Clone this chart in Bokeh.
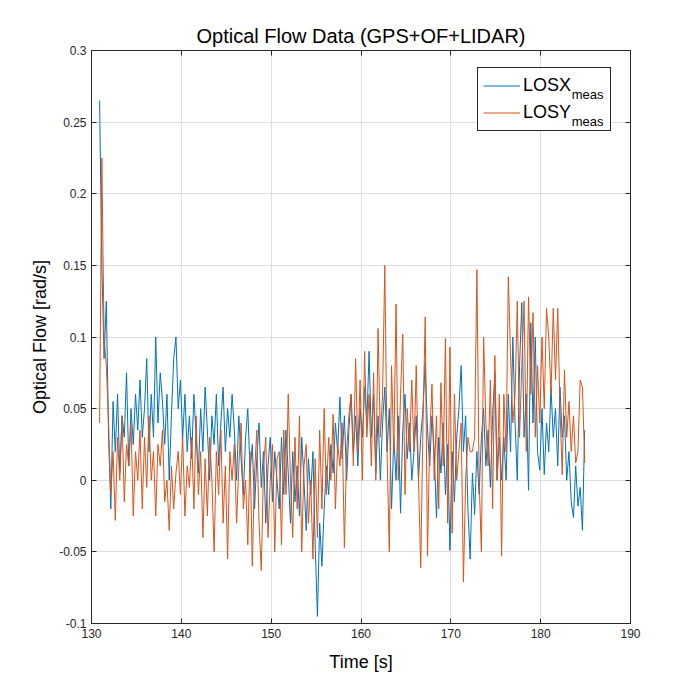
from bokeh.plotting import figure
from bokeh.models import (Legend, LegendItem, LinearAxis, FixedTicker, Label,
                          Range1d, ColumnDataSource, CustomLabelingPolicy, BoxAnnotation)
from bokeh.embed import file_html
from bokeh.resources import INLINE
import numpy as np

# ---------------- data ----------------
T0 = 130.9      # first sample time [s]
DT = 0.25       # sample spacing [s]

LOSX_MEAS = [
    0.265, 0.15, 0.085, 0.125, 0.03, -0.02, 0.055, 0.02, 0.06, 0.005, 0.045, 0.03, 0.075, 0.01, 0.05, 0.025, 0.06, 0.035, 0.07, 0.03,
    0.05, 0.085, 0.02, 0.06, 0.03, 0.1, 0.04, 0.075, 0.055, 0.025, 0.06, 0.0, 0.045, 0.085, 0.1, 0.05, 0.07, 0.03, 0.06, 0.02,
    0.045, 0.015, 0.06, 0.03, 0.005, 0.05, 0.02, 0.065, 0.035, 0.0, 0.045, 0.025, 0.06, 0.01, 0.04, 0.065, 0.02, 0.05, 0.03, 0.06,
    0.035, 0.0, 0.045, 0.015, -0.01, 0.03, 0.05, 0.005, 0.025, -0.02, 0.015, 0.04, -0.005, 0.02, -0.03, 0.01, 0.03, -0.015, 0.02, 0.0,
    -0.02, 0.03, -0.01, 0.035, 0.005, -0.03, 0.02, -0.015, 0.01, -0.025, 0.03, 0.0, -0.035, 0.015, -0.01, 0.02, -0.045, -0.095, -0.03, -0.06,
    -0.02, 0.01, -0.01, 0.025, 0.005, 0.04, 0.02, 0.058, 0.015, 0.045, 0.0, 0.035, 0.06, 0.02, 0.045, 0.01, 0.05, 0.03, 0.065, 0.04,
    0.09, 0.03, 0.06, 0.005, 0.045, 0.0, 0.04, 0.065, 0.02, 0.05, -0.02, 0.03, 0.0, 0.045, -0.023, 0.035, 0.06, 0.015, 0.04, 0.0,
    0.02, 0.045, 0.0, 0.03, 0.05, 0.082, 0.035, 0.01, 0.045, 0.02, -0.026, 0.03, 0.005, 0.04, -0.01, 0.025, -0.049, 0.02, -0.015, 0.03,
    0.05, 0.08, 0.02, 0.045, -0.02, -0.055, 0.005, -0.024, 0.02, -0.01, 0.03, 0.05, 0.01, 0.035, -0.005, 0.045, 0.075, 0.0, 0.03, 0.0,
    0.03, 0.0, 0.06, 0.02, 0.1, 0.04, 0.0, 0.08, 0.124, 0.03, 0.06, -0.007, 0.11, 0.04, 0.1, 0.02, 0.007, 0.05, 0.004, 0.04,
    0.02, 0.065, 0.03, 0.05, 0.01, 0.065, 0.03, 0.045, 0.0, 0.02, -0.015, -0.026, 0.01, -0.018, -0.005, -0.035, 0.035,
]

LOSY_MEAS = [
    0.04, 0.225, 0.1, 0.08, 0.04, -0.01, 0.02, -0.028, 0.03, 0.0, 0.045, -0.015, 0.025, 0.01, 0.04, -0.025, 0.02, 0.0, 0.035, -0.02,
    0.03, -0.005, 0.045, 0.0, 0.02, -0.025, 0.025, 0.01, 0.035, -0.015, 0.0, -0.035, 0.01, -0.02, 0.005, 0.02, -0.01, 0.03, -0.025, 0.01,
    -0.005, 0.03, -0.02, 0.045, -0.01, 0.02, -0.04, 0.015, -0.025, 0.03, 0.0, -0.05, 0.02, -0.01, 0.035, -0.03, 0.01, -0.055, 0.02, 0.0,
    0.025, -0.03, 0.01, 0.04, -0.02, 0.0, -0.045, 0.02, -0.06, 0.005, 0.035, -0.03, -0.063, 0.01, 0.03, -0.04, 0.0, 0.025, -0.05, 0.015,
    0.02, -0.045, 0.035, -0.01, 0.06, 0.0, -0.04, 0.03, -0.02, 0.045, -0.05, 0.01, 0.025, -0.03, 0.0, -0.055, 0.015, -0.04, 0.035, -0.02,
    0.05, -0.01, 0.03, 0.0, 0.046, -0.02, 0.025, 0.01, 0.04, -0.047, 0.02, 0.045, 0.06, 0.01, 0.085, 0.02, 0.07, 0.0, 0.09, 0.03,
    0.06, 0.01, 0.075, 0.0, 0.106, 0.03, 0.06, 0.15, 0.02, -0.05, 0.08, 0.02, 0.123, 0.0, 0.06, 0.102, -0.01, 0.05, 0.02, 0.07,
    0.02, 0.08, 0.0, -0.061, 0.04, 0.114, -0.053, 0.03, 0.067, 0.0, 0.045, -0.02, 0.068, 0.01, 0.099, -0.03, 0.093, -0.037, 0.06, 0.0,
    0.02, 0.04, -0.071, 0.0, 0.03, 0.02, 0.02, 0.03, 0.147, 0.0, -0.05, 0.1, 0.04, 0.01, 0.07, -0.02, 0.087, 0.0, 0.06, -0.053,
    0.06, 0.02, 0.142, 0.087, 0.04, 0.06, 0.125, 0.03, 0.08, 0.125, 0.02, 0.128, 0.06, 0.117, 0.03, 0.08, 0.04, 0.1, 0.05, 0.12,
    0.1, 0.06, 0.12, 0.07, 0.12, 0.05, 0.004, 0.077, 0.03, 0.055, 0.02, 0.045, 0.012, 0.02, 0.07, 0.065, 0.012,
]

SERIES_NAMES = ["LOSX", "LOSY"]
SERIES_SUB = ["meas", "meas"]
SERIES_COLORS = ["#0072BD", "#D95319"]

X_TICKS = [130, 140, 150, 160, 170, 180, 190]
X_TICK_LABELS = ["130", "140", "150", "160", "170", "180", "190"]
Y_TICKS = [-0.1, -0.05, 0.0, 0.05, 0.1, 0.15, 0.2, 0.25, 0.3]
Y_TICK_LABELS = ["-0.1", "-0.05", "0", "0.05", "0.1", "0.15", "0.2", "0.25", "0.3"]

TITLE = "Optical Flow Data (GPS+OF+LIDAR)"
X_LABEL = "Time [s]"
Y_LABEL = "Optical Flow [rad/s]"

# ---------------- figure ----------------
FONT = "Liberation Sans"
DARK = "#262626"
GRID = "#dfdfdf"

p = figure(frame_width=539, frame_height=573,
           x_range=Range1d(130, 190), y_range=Range1d(-0.1, 0.3),
           output_backend="svg", toolbar_location=None,
           min_border_left=91, min_border_right=54,
           min_border_top=50, min_border_bottom=60,
           background_fill_color="white", border_fill_color="white")

p.title.text = TITLE
p.title.align = "center"
p.title.text_font = FONT
p.title.text_font_size = "20px"
p.title.text_font_style = "normal"
p.title.text_color = "#000000"
p.title.standoff = 7

p.outline_line_color = DARK
p.outline_line_alpha = 1.0
p.outline_line_width = 1

for ax, ticks, labels, lab, stand in ((p.xaxis[0], X_TICKS, X_TICK_LABELS, X_LABEL, 11),
                                      (p.yaxis[0], Y_TICKS, Y_TICK_LABELS, Y_LABEL, 6)):
    ax.ticker = FixedTicker(ticks=ticks)
    ax.major_label_overrides = {t: l for t, l in zip(ticks, labels)}
    ax.axis_label = lab
    ax.axis_label_text_font = FONT
    ax.axis_label_text_font_size = "18px"
    ax.axis_label_text_font_style = "normal"
    ax.axis_label_text_color = "#000000"
    ax.major_label_text_font = FONT
    ax.major_label_text_font_size = "12px"
    ax.major_label_text_color = DARK
    ax.axis_line_color = DARK
    ax.major_tick_line_color = DARK
    ax.major_tick_in = 5
    ax.major_tick_out = 0
    ax.minor_tick_line_color = None
    ax.axis_label_standoff = stand
    ax.major_label_standoff = 5

no_labels = CustomLabelingPolicy(code="return new Set()")
for side, ticks in (("right", Y_TICKS), ("above", X_TICKS)):
    ax2 = LinearAxis(ticker=FixedTicker(ticks=ticks),
                     major_label_policy=no_labels,
                     major_label_text_font_size="0px",
                     major_tick_in=5, major_tick_out=0,
                     major_tick_line_color=DARK, axis_line_color=DARK,
                     minor_tick_line_color=None, major_label_standoff=0)
    p.add_layout(ax2, side)

p.xgrid.ticker = FixedTicker(ticks=X_TICKS)
p.ygrid.ticker = FixedTicker(ticks=Y_TICKS)
p.grid.grid_line_color = GRID
p.grid.grid_line_width = 1

# white backing of the legend box (hides the grid behind the legend)
p.add_layout(BoxAnnotation(left=172.98, right=187.64, bottom=0.2445, top=0.2872,
                           fill_color="white", fill_alpha=1.0, line_color=None,
                           level="underlay"))

renderers = []
for vals, col in ((LOSX_MEAS, SERIES_COLORS[0]), (LOSY_MEAS, SERIES_COLORS[1])):
    t = T0 + DT * np.arange(len(vals))
    src = ColumnDataSource(dict(t=t, v=vals))
    renderers.append(p.line("t", "v", source=src, line_color=col, line_width=1))

legend = Legend(items=[LegendItem(label=n, renderers=[r]) for n, r in zip(SERIES_NAMES, renderers)],
                location=(386, 492), margin=0, padding=5, spacing=2,
                glyph_width=37, glyph_height=25, label_height=25, label_width=82,
                label_standoff=3,
                label_text_font=FONT, label_text_font_size="18px", label_text_color="#000000",
                border_line_color=DARK, border_line_width=1, border_line_alpha=1,
                background_fill_color="white", background_fill_alpha=0)
p.add_layout(legend)

# subscripts of the legend labels
for sub, yb in zip(SERIES_SUB, (0.2693, 0.2504)):
    p.add_layout(Label(x=183.45, y=yb, text=sub, text_font=FONT,
                       text_font_size="13px", text_color="#000000",
                       text_baseline="alphabetic", text_align="left"))

open("out.html", "w").write(file_html(p, INLINE))
